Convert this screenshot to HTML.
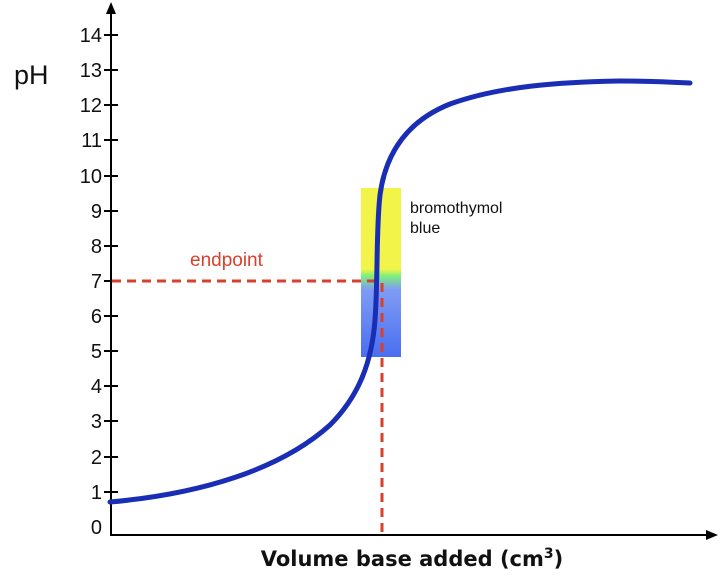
<!DOCTYPE html>
<html><head><meta charset="utf-8"><style>
html,body{margin:0;padding:0;background:#fff;}
svg{display:block;}
</style></head><body>
<svg width="720" height="584" xmlns="http://www.w3.org/2000/svg">
<defs>
<linearGradient id="g" x1="0" y1="0" x2="0" y2="1">
<stop offset="0" stop-color="#f2f44a"/>
<stop offset="0.48" stop-color="#f2f44a"/>
<stop offset="0.52" stop-color="#7ef07a"/>
<stop offset="0.60" stop-color="#7f9cf4"/>
<stop offset="1" stop-color="#4a6ef0"/>
</linearGradient>
</defs>
<rect x="361" y="188" width="40" height="169" fill="url(#g)"/>
<g stroke="#000" stroke-width="2" fill="none">
<line x1="111" y1="8" x2="111" y2="535"/>
<line x1="110" y1="535" x2="712" y2="535"/>
</g>
<polygon points="111,2 106,14 116,14" fill="#000"/>
<polygon points="718,535 706,530 706,540" fill="#000"/>
<g stroke="#000" stroke-width="2">
<line x1="104" y1="35" x2="118" y2="35"/><line x1="104" y1="70" x2="118" y2="70"/>
<line x1="104" y1="105" x2="118" y2="105"/><line x1="104" y1="140" x2="118" y2="140"/>
<line x1="104" y1="176" x2="118" y2="176"/><line x1="104" y1="211" x2="118" y2="211"/>
<line x1="104" y1="246" x2="118" y2="246"/><line x1="104" y1="281" x2="118" y2="281"/>
<line x1="104" y1="316" x2="118" y2="316"/><line x1="104" y1="351" x2="118" y2="351"/>
<line x1="104" y1="386" x2="118" y2="386"/><line x1="104" y1="421" x2="118" y2="421"/>
<line x1="104" y1="457" x2="118" y2="457"/><line x1="104" y1="492" x2="118" y2="492"/>
</g>
<g font-family="Liberation Sans, sans-serif" font-size="20" fill="#111" text-anchor="end">
<text x="102" y="42">14</text><text x="102" y="77">13</text><text x="102" y="112">12</text>
<text x="102" y="147">11</text><text x="102" y="183">10</text><text x="102" y="218">9</text>
<text x="102" y="253">8</text><text x="102" y="288">7</text><text x="102" y="323">6</text>
<text x="102" y="358">5</text><text x="102" y="393">4</text><text x="102" y="428">3</text>
<text x="102" y="464">2</text><text x="102" y="499">1</text><text x="102" y="534">0</text>
</g>
<text x="14" y="84" font-family="Liberation Sans, sans-serif" font-size="27" fill="#111">pH</text>
<g stroke="#d9402b" stroke-width="3" stroke-dasharray="9,6" fill="none">
<line x1="112" y1="281" x2="376" y2="281"/>
<line x1="382" y1="283" x2="382" y2="535"/>
</g>
<text x="190" y="266" font-family="Liberation Sans, sans-serif" font-size="19" fill="#d9402b">endpoint</text>
<path d="M110,502 C200,494 280,470 330,425 C360,395 372,360 375,320 C378,280 376,230 380,195 C386,150 410,120 450,104 C500,86 560,82 620,81 C650,81 670,82 690,83" stroke="#1a2db5" stroke-width="5" fill="none" stroke-linecap="round"/>
<text x="410" y="213" font-family="Liberation Sans, sans-serif" font-size="16" fill="#111">bromothymol</text>
<text x="410" y="233" font-family="Liberation Sans, sans-serif" font-size="16" fill="#111">blue</text>
<text x="412" y="566" text-anchor="middle" font-family="DejaVu Sans, sans-serif" font-weight="bold" font-size="21" fill="#111">Volume base added (cm<tspan font-size="14" dy="-8">3</tspan><tspan dy="8">)</tspan></text>
</svg>
</body></html>
